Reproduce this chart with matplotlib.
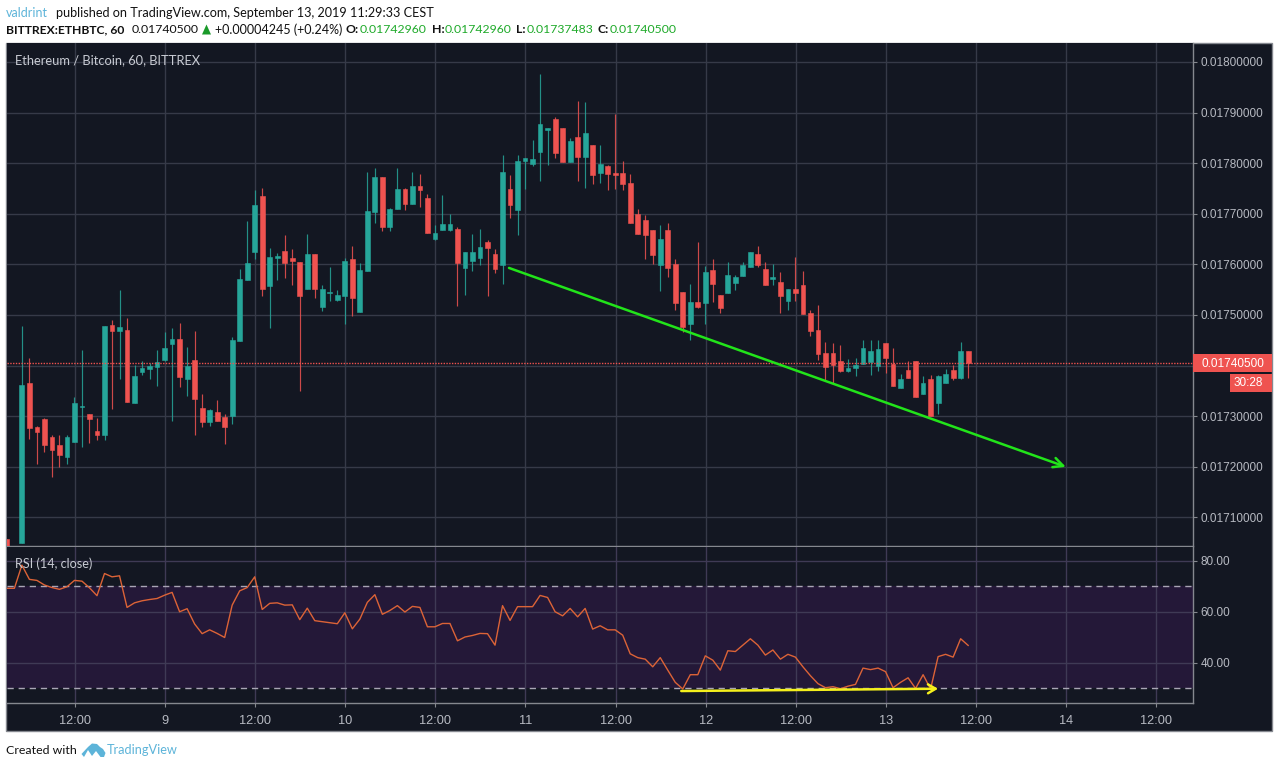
"""ETH/BTC 60 minute candles with RSI, TradingView snapshot layout."""
import matplotlib
matplotlib.use("Agg")
import matplotlib.pyplot as plt
import numpy as np
from matplotlib.patches import Polygon, Rectangle

nan = float("nan")

# hourly candles, prices in units of 1e-5
opens = [1705.8, nan, 1705.0, 1736.5, 1727.8, 1729.5, 1725.9, 1724.3, 1721.9, 1724.9,
         1731.8, 1730.4, 1727.1, 1726.2, 1748.1, 1746.8, 1747.0, 1732.6, 1738.7, 1739.4,
         1739.8, 1741.1, 1744.3, 1745.3, 1737.4, 1741.1, 1731.7, 1728.8, 1730.8, 1729.9,
         1730.1, 1744.9, 1757.0, 1762.4, 1773.5, 1755.8, 1761.3, 1762.6, 1761.2, 1760.4,
         1755.1, 1762.0, 1751.5, 1754.3, 1752.9, 1753.7, 1761.0, 1750.6, 1758.7, 1770.4,
         1777.3, 1767.3, 1771.0, 1774.9, 1771.9, 1775.5, 1773.1, 1765.1, 1766.8, 1766.7,
         1766.9, 1759.2, 1760.7, 1761.2, 1764.4, 1762.0, 1759.9, 1774.9, 1770.8, 1780.5,
         1779.8, 1782.3, 1786.6, 1788.8, 1787.0, 1780.3, 1785.2, 1781.25, 1783.6, 1778.1,
         1779.5, 1778.0, 1778.1, 1776.1, 1769.9, 1768.8, 1766.8, 1759.9, 1766.8, 1760.1,
         1754.5, 1748.2, 1752.5, 1752.4, 1758.9, 1753.9, 1754.3, 1756.4, 1757.8, 1759.5,
         1762.0, 1759.1, 1757.1, 1756.5, 1752.7, 1755.1, 1755.9, 1750.4, 1747.0, 1742.4,
         1742.4, 1740.9, 1738.9, 1739.5, 1740.4, 1740.7, 1739.9, 1744.5, 1740.4, 1735.6,
         1739.1, 1740.9, 1734.3, 1737.3, 1732.7, 1736.6, 1739.1, 1737.6, 1742.96]
highs = [1705.8, nan, 1747.8, 1741.5, 1728.0, 1729.6, 1726.3, 1726.3, 1726.2, 1733.8,
         1743.0, 1730.4, 1729.7, 1747.9, 1749.1, 1754.9, 1749.5, 1740.2, 1741.0, 1740.5,
         1743.1, 1746.6, 1747.5, 1748.5, 1743.6, 1746.9, 1734.4, 1731.4, 1733.2, 1730.4,
         1745.6, 1759.0, 1768.5, 1774.7, 1775.0, 1763.2, 1762.2, 1765.9, 1763.1, 1760.4,
         1766.0, 1762.0, 1756.0, 1759.5, 1754.9, 1761.2, 1763.6, 1760.2, 1778.2, 1779.0,
         1777.3, 1771.1, 1779.0, 1775.0, 1778.2, 1777.9, 1773.9, 1767.8, 1773.7, 1769.9,
         1767.3, 1762.4, 1766.0, 1767.0, 1764.8, 1763.0, 1781.6, 1777.7, 1781.7, 1781.1,
         1784.5, 1797.6, 1786.9, 1789.2, 1787.0, 1785.0, 1792.2, 1792.0, 1783.6, 1783.5,
         1779.7, 1789.8, 1780.5, 1777.8, 1770.9, 1769.8, 1766.8, 1767.7, 1768.1, 1761.0,
         1754.5, 1756.1, 1764.4, 1759.7, 1761.1, 1753.9, 1760.5, 1758.0, 1760.4, 1762.5,
         1763.7, 1760.4, 1760.0, 1758.5, 1755.1, 1761.5, 1758.7, 1751.0, 1751.9, 1744.7,
         1744.4, 1744.0, 1741.4, 1741.5, 1745.0, 1745.0, 1745.0, 1744.5, 1743.5, 1738.4,
         1740.9, 1740.9, 1737.9, 1738.2, 1738.1, 1739.4, 1740.1, 1744.7, 1742.96]
lows = [1704.3, nan, 1704.9, 1725.4, 1720.6, 1722.9, 1717.9, 1719.9, 1720.6, 1724.9,
        1723.9, 1724.7, 1725.3, 1725.3, 1731.4, 1737.4, 1732.8, 1732.6, 1738.2, 1737.3,
        1735.9, 1741.0, 1729.1, 1735.7, 1734.0, 1726.3, 1727.8, 1728.1, 1729.0, 1724.5,
        1728.5, 1744.9, 1757.0, 1761.0, 1753.8, 1747.5, 1757.0, 1757.4, 1755.9, 1734.9,
        1755.1, 1753.3, 1750.8, 1752.8, 1752.8, 1748.2, 1749.8, 1750.6, 1758.7, 1768.1,
        1766.6, 1766.5, 1771.0, 1770.8, 1771.9, 1771.3, 1766.3, 1764.8, 1766.8, 1766.5,
        1751.8, 1753.9, 1758.7, 1759.9, 1753.8, 1758.2, 1756.1, 1769.1, 1765.8, 1774.9,
        1779.5, 1776.5, 1779.7, 1781.0, 1780.3, 1780.3, 1776.5, 1775.0, 1775.9, 1776.0,
        1774.7, 1774.9, 1774.7, 1768.1, 1766.1, 1761.0, 1760.1, 1754.7, 1757.6, 1751.0,
        1746.7, 1745.0, 1751.3, 1748.2, 1752.5, 1750.3, 1754.3, 1754.9, 1757.8, 1759.5,
        1759.5, 1755.9, 1755.9, 1750.3, 1751.0, 1752.8, 1750.2, 1745.9, 1741.1, 1737.1,
        1736.6, 1738.7, 1738.7, 1737.9, 1740.4, 1738.1, 1738.9, 1738.5, 1735.9, 1735.6,
        1737.6, 1733.8, 1734.3, 1730.0, 1730.5, 1736.6, 1737.1, 1737.4, 1737.483]
closes = [1704.3, nan, 1736.2, 1727.6, 1726.9, 1724.3, 1723.3, 1722.3, 1725.8, 1732.6,
          1732.0, 1729.4, 1726.3, 1747.9, 1746.8, 1747.7, 1732.8, 1738.0, 1739.5, 1740.0,
          1740.8, 1743.5, 1745.3, 1737.7, 1740.0, 1733.4, 1728.8, 1731.3, 1729.1, 1727.8,
          1745.1, 1757.1, 1760.2, 1771.8, 1755.1, 1761.4, 1761.6, 1760.3, 1760.7, 1753.8,
          1762.0, 1755.1, 1755.2, 1754.5, 1753.9, 1760.7, 1753.3, 1758.9, 1770.6, 1777.3,
          1767.3, 1771.0, 1774.9, 1771.9, 1775.5, 1774.7, 1766.3, 1766.3, 1767.9, 1767.9,
          1760.2, 1762.4, 1762.4, 1763.4, 1763.2, 1759.0, 1778.3, 1771.7, 1780.5, 1781.0,
          1780.9, 1787.8, 1786.9, 1782.0, 1780.3, 1784.4, 1781.25, 1786.0, 1777.7, 1779.9,
          1777.9, 1777.7, 1775.9, 1768.1, 1766.1, 1765.8, 1761.8, 1765.0, 1759.3, 1752.4,
          1747.7, 1752.5, 1751.6, 1758.5, 1756.2, 1751.3, 1757.9, 1757.5, 1759.9, 1762.4,
          1759.9, 1755.9, 1757.5, 1753.7, 1755.1, 1754.3, 1750.2, 1746.8, 1742.2, 1739.7,
          1740.1, 1738.9, 1739.6, 1740.1, 1743.5, 1742.8, 1743.2, 1741.6, 1735.9, 1737.3,
          1737.6, 1733.8, 1736.5, 1730.0, 1737.9, 1738.4, 1737.6, 1742.8, 1740.5]
rsi = [69.2, 69.2, 78.3, 72.7, 72.3, 70.5, 69.5, 68.8, 69.8, 72.3,
       72.0, 69.4, 66.3, 75.0, 73.7, 74.1, 61.7, 63.5, 64.3, 64.8,
       65.2, 66.5, 67.6, 60.0, 61.2, 55.2, 51.4, 52.9, 51.5, 49.9,
       62.6, 68.2, 69.5, 73.7, 60.9, 63.3, 63.5, 62.6, 62.7, 56.9,
       61.4, 56.5, 56.1, 55.7, 55.3, 59.6, 53.3, 57.1, 63.7, 66.7,
       59.0, 60.5, 62.4, 59.9, 62.1, 61.7, 54.1, 54.1, 55.4, 55.4,
       48.6, 50.1, 50.7, 51.5, 51.4, 46.9, 62.4, 56.6, 62.0, 62.0,
       62.0, 66.4, 65.6, 60.0, 58.4, 61.3, 58.0, 61.3, 53.2, 54.5,
       52.9, 52.9, 50.8, 43.5, 42.0, 41.4, 38.4, 42.0, 37.1, 32.3,
       29.7, 35.3, 35.3, 42.7, 41.0, 37.1, 44.7, 44.4, 46.9, 49.4,
       46.9, 43.0, 45.0, 41.4, 43.3, 42.2, 38.4, 34.9, 31.8, 30.2,
       30.6, 29.8, 30.8, 31.5, 37.9, 37.3, 37.9, 36.5, 30.2, 32.3,
       34.1, 29.9, 35.3, 29.7, 42.4, 43.3, 42.2, 49.4, 46.8]

price_ticks = [1710, 1720, 1730, 1740, 1750, 1760, 1770, 1780, 1790, 1800]
rsi_ticks = [40, 60, 80]
rsi_bands = [30, 70]
time_tick_bars = [9, 21, 33, 45, 57, 69, 81, 93, 105, 117, 129, 141, 153]
time_labels = ["12:00", "9", "12:00", "10", "12:00", "11", "12:00", "12", "12:00", "13",
               "12:00", "14", "12:00"]
last_price = 1740.5
# trend lines: (bar, value) at each end
green_line = [(66.86, 1759.3), (141.0, 1720.0)]
yellow_line = [(89.8, 28.9), (124.0, 29.8)]

W, H = 1279, 768
BG = "#131722"
GRID = "#363a48"
EDGE = "#85888f"
UP = "#26a69a"
DOWN = "#ef5350"
AXTEXT = "#b7bac2"
BLUE = "#5db4d9"
GREENTXT = "#1faa2a"

plt.rcParams["font.family"] = ["Lato", "DejaVu Sans"]

fig = plt.figure(figsize=(W / 100, H / 100), dpi=100, facecolor="white")


def px_axes(x0, y0, x1, y1):
    return fig.add_axes([x0 / W, 1 - y1 / H, (x1 - x0) / W, (y1 - y0) / H])


def label(x, y, s, **kw):
    kw.setdefault("va", "center")
    kw.setdefault("fontsize", 9)
    return fig.text(x / W, 1 - y / H, s, **kw)


def px_rect(x0, y0, x1, y1, **kw):
    fig.add_artist(Rectangle((x0 / W, 1 - y1 / H), (x1 - x0) / W, (y1 - y0) / H,
                             transform=fig.transFigure, **kw))


# chart frame incl. axis strips
px_rect(6, 43, 1272, 731, facecolor=BG, edgecolor=EDGE, linewidth=1, zorder=-5)

ax = px_axes(6.5, 43, 1193, 546)
ax2 = px_axes(6.5, 546.5, 1193, 703)

for a in (ax, ax2):
    a.set_facecolor(BG)
    a.set_xlim(-0.05, 157.94)
    a.set_xticks(np.array(time_tick_bars) + 0.05)
    a.grid(True, color=GRID, linewidth=1)
    a.set_axisbelow(True)
    a.yaxis.tick_right()
    a.tick_params(axis="y", length=3, width=0.8, color=EDGE, labelcolor=AXTEXT, pad=2.5)
    for side, sp in a.spines.items():
        sp.set_color(EDGE)
        sp.set_linewidth(1)
        sp.set_visible(side in ("bottom", "right"))

# candles
o = np.array(opens) * 1e-5
h = np.array(highs) * 1e-5
l = np.array(lows) * 1e-5
c = np.array(closes) * 1e-5
bars = np.arange(len(o))
ok = ~np.isnan(o)
colors = np.where(c >= o, UP, DOWN)
ax.vlines(bars[ok], l[ok], h[ok], colors=colors[ok], linewidth=0.85, zorder=3, alpha=0.85)
ax.bar(bars[ok], np.abs(c - o)[ok], bottom=np.minimum(o, c)[ok], width=0.64,
       color=colors[ok], edgecolor=colors[ok], linewidth=0.4, zorder=4)

ax.set_ylim(1704.35e-5, 1803.75e-5)
ax.set_yticks(np.array(price_ticks) * 1e-5)
# the 0.0174 label sits behind the last price box
ax.set_yticklabels(["" if t == 1740 else f"{t * 1e-5:.8f}" for t in price_ticks],
                   family="Liberation Sans", fontsize=8.5)
ax.tick_params(axis="x", length=0, labelbottom=False)
ax.axhline(last_price * 1e-5, color=DOWN, linewidth=1, linestyle=(0, (1, 1)), zorder=5)

ax.annotate("", xy=(green_line[1][0], green_line[1][1] * 1e-5),
            xytext=(green_line[0][0], green_line[0][1] * 1e-5),
            arrowprops=dict(arrowstyle="->,head_length=0.7,head_width=0.35", color="#22e41a",
                            linewidth=1.8, shrinkA=0, shrinkB=0), zorder=6)

# RSI panel
ax2.axhspan(rsi_bands[0], rsi_bands[1], color="#241838", zorder=0.5, linewidth=0)
ax2.grid(True, color="#3f3a55", linewidth=1, zorder=1)
for v in rsi_bands:
    ax2.axhline(v, color="#a9a5b5", linewidth=1, linestyle=(0, (4.5, 3.5)), zorder=2)
ax2.plot(bars, rsi, color="#dc6337", linewidth=1, zorder=3)
ax2.set_ylim(24.2, 85.6)
ax2.set_yticks(rsi_ticks)
ax2.set_yticklabels([f"{t:.2f}" for t in rsi_ticks], family="Liberation Sans", fontsize=8.5)
ax2.set_xticklabels(time_labels, family="Liberation Sans", fontsize=9.2, color=AXTEXT)
ax2.tick_params(axis="x", length=3, width=0.8, color=EDGE, pad=5.5)
ax2.annotate("", xy=(yellow_line[1][0], yellow_line[1][1]),
             xytext=(yellow_line[0][0], yellow_line[0][1]),
             arrowprops=dict(arrowstyle="->,head_length=0.55,head_width=0.32", color="#f4f01c",
                             linewidth=1.8, shrinkA=0, shrinkB=0), zorder=6, annotation_clip=False)

# last price boxes
px_rect(1193, 354, 1272, 372, facecolor=DOWN, edgecolor="none", zorder=5)
px_rect(1230, 373.5, 1272, 392, facecolor=DOWN, edgecolor="none", zorder=5)
label(1201, 363.5, "0.01740500", color="white", family="Liberation Sans", fontsize=8.5, zorder=6)
label(1234, 382.5, "30:28", color="white", family="Liberation Sans", fontsize=8.5, zorder=6)

# header
label(6, 13, "valdrint", color=BLUE)
label(56, 13, "published on TradingView.com, September 13, 2019 11:29:33 CEST", color="#111111",
      fontsize=9.07)
label(6, 29.5, "BITTREX:ETHBTC, 60", color="#111111", fontsize=8.75, fontweight="bold")
label(132, 29.5, "0.01740500", color="#111111", fontsize=8.85)
fig.add_artist(Polygon([(202 / W, 1 - 34.5 / H), (211 / W, 1 - 34.5 / H), (206.5 / W, 1 - 24.5 / H)],
                       closed=True, facecolor="#1a9a2a", edgecolor="none",
                       transform=fig.transFigure))
label(215, 29.5, "+0.00004245 (+0.24%)", color="#111111", fontsize=9)
for xk, xv, key, val in [(346, 360, "O:", "0.01742960"), (432, 445, "H:", "0.01742960"),
                         (516, 527, "L:", "0.01737483"), (598, 610, "C:", "0.01740500")]:
    label(xk, 29.5, key, color="#111111", fontsize=8.8, fontweight="bold")
    label(xv, 29.5, val, color=GREENTXT, fontsize=8.85)

label(15, 60.5, "Ethereum / Bitcoin, 60, BITTREX", color="#c9ccd4", fontsize=9.3)
label(15, 563.5, "RSI (14, close)", color="#c9ccd4", fontsize=9.1)

# footer
label(6, 750, "Created with", color="#111111", fontsize=8.95)
logo = [(81.5, 754), (88, 747), (92, 743.5), (97, 744), (100, 747), (103, 749), (105.5, 753),
        (104, 757), (100.5, 757), (96, 751), (92, 756), (88, 750), (84, 757)]
fig.add_artist(Polygon([(x / W, 1 - y / H) for x, y in logo], closed=True, facecolor=BLUE,
                       edgecolor="none", transform=fig.transFigure))
label(107, 750, "TradingView", color=BLUE, fontsize=9.2)

fig.savefig("out.png", dpi=100, facecolor="white")
